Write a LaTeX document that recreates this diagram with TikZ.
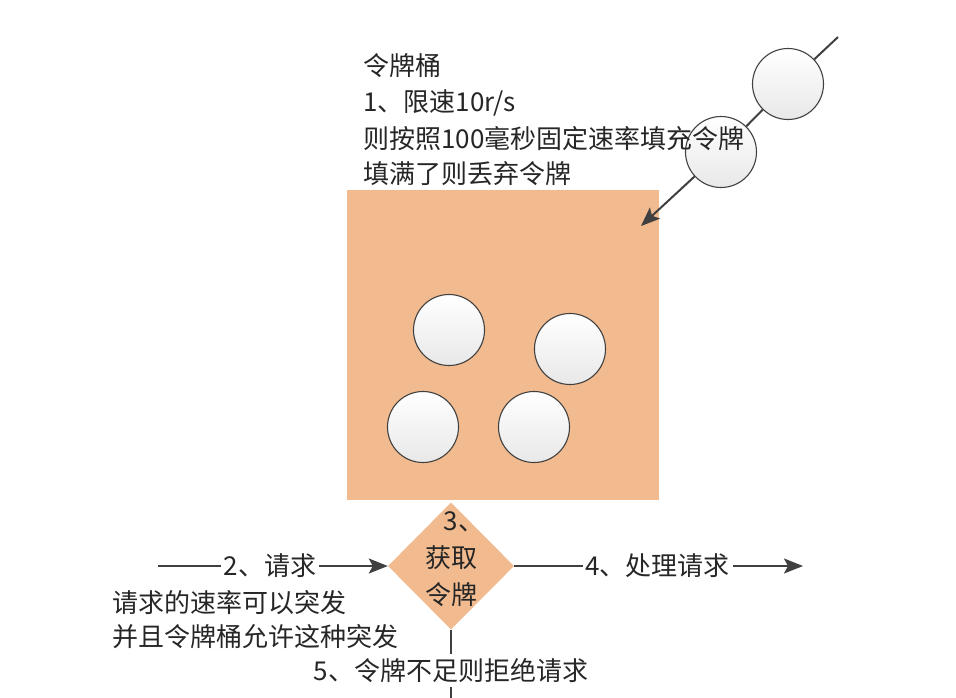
\documentclass[tikz,border=0pt]{standalone}
\usepackage{fontspec}
\setmainfont{Noto Sans CJK SC}
\usetikzlibrary{shapes.geometric,arrows.meta}
\definecolor{peach}{RGB}{241,187,143}
\definecolor{ink}{RGB}{64,64,64}
\tikzset{
  txt/.style={font=\fontsize{26pt}{37pt}\selectfont, text=black!85, inner sep=0pt},
  token/.style={circle, minimum size=71pt, inner sep=0pt, draw=ink, line width=1.1pt,
    top color=white, bottom color=black!9},
  conn/.style={draw=ink, line width=2pt, -{Stealth[length=19pt,width=15pt,inset=4pt]}},
  plain/.style={draw=ink, line width=2pt},
  lbl/.style={txt, fill=white, inner xsep=3pt, inner ysep=4pt},
}
\begin{document}
\begin{tikzpicture}[x=1pt,y=-1pt]
\useasboundingbox (0,0) rectangle (956,697);
% bucket
\node[rectangle, fill=peach, minimum width=312pt, minimum height=310pt, inner sep=0pt] (bucket) at (503,345) {};
\node[token] (t1) at (449,330) {};
\node[token] (t2) at (570,349) {};
\node[token] (t3) at (423,427) {};
\node[token] (t4) at (534,427) {};
% incoming tokens
\coordinate (src) at (838,37);
\coordinate (drop) at (641,226);
\node[token] (tA) at (788,84) {};
\node[token] (tB) at (721,152) {};
\draw[plain] (src) -- (tA);
\draw[plain] (tA) -- (tB);
\draw[conn] (tB) -- (drop);
% top text
\node[txt, anchor=west] (h1) at (363,66) {令牌桶};
\node[txt, anchor=west] (h2) at (363,103) {1、限速10r/s};
\node[txt, anchor=west] (h3) at (363,139) {则按照100毫秒固定速率填充令牌};
\node[txt, anchor=west] (h4) at (363,174) {填满了则丢弃令牌};
% decision
\node[diamond, fill=peach, minimum width=126pt, minimum height=127pt, inner sep=0pt] (get) at (451,566) {};
\node[txt, align=center] (gettxt) at (451,559) {\makebox[0.55em][c]{3}\rlap{、}\\获取\\令牌};
% flows
\coordinate (in) at (158,566);
\coordinate (out) at (803,566);
\coordinate (down) at (451,700);
\draw[conn] (in) -- (get.west) node[lbl, pos=0.487] (req) {2、请求};
\draw[conn] (get.east) -- (out) node[lbl, pos=0.497] (ok) {4、处理请求};
\draw[plain] (get.south) -- (down) node[lbl, pos=0.58] (rej) {5、令牌不足则拒绝请求};
% notes
\node[txt, anchor=west] (n1) at (112,603) {请求的速率可以突发};
\node[txt, anchor=west] (n2) at (112,637) {并且令牌桶允许这种突发};
\end{tikzpicture}
\end{document}
